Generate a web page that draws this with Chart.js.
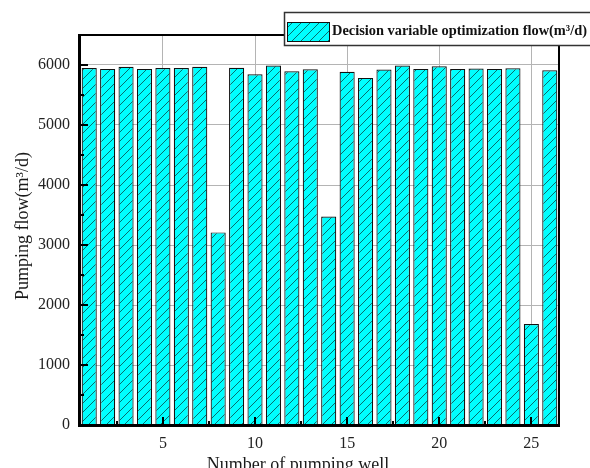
<!DOCTYPE html>
<html>
<head>
<meta charset="utf-8">
<title>Pumping flow</title>
<script src="https://cdn.jsdelivr.net/npm/chart.js@4.4.1/dist/chart.umd.min.js"></script>
<style>
  html, body { margin: 0; padding: 0; background: #fff; }
  #wrap { width: 590px; height: 468px; }
</style>
</head>
<body>
<div id="wrap"><canvas id="myChart" width="590" height="468"></canvas></div>
<script>
// well numbers 1..26 and the optimized flow of each (m3/d)
const wellNumbers = [1, 2, 3, 4, 5, 6, 7, 8, 9, 10, 11, 12, 13, 14, 15, 16, 17, 18, 19, 20, 21, 22, 23, 24, 25, 26];
const pumpingFlow = [5950, 5935, 5970, 5935, 5950, 5950, 5970, 3210, 5955, 5845, 5990, 5895, 5930, 3475,
                     5888, 5785, 5925, 5990, 5935, 5978, 5935, 5940, 5935, 5945, 1683, 5912];
const xTickLabels = ['5', '10', '15', '20', '25'];
const yTickValues = [0, 1000, 2000, 3000, 4000, 5000, 6000];
const yMax = 6500;

const seriesName = 'Decision variable optimization flow(m\u00b3/d)';
const xTitle = 'Number of pumping well';
const yTitle = 'Pumping flow(m\u00b3/d)';

const serif = '"Liberation Serif", "Times New Roman", serif';
const ctx = document.getElementById('myChart').getContext('2d');

// cyan fill with "/" hatching
function hatchPattern() {
    let c = document.createElement('canvas');
    c.width = 9; c.height = 9;
    let g = c.getContext('2d');
    g.fillStyle = '#00ffff';
    g.fillRect(0, 0, 9, 9);
    g.strokeStyle = 'rgba(10,40,40,0.85)';
    g.lineWidth = 0.8;
    g.beginPath();
    g.moveTo(0, 9); g.lineTo(9, 0);
    g.moveTo(-1, 1); g.lineTo(1, -1);
    g.moveTo(8, 10); g.lineTo(10, 8);
    g.stroke();
    return ctx.createPattern(c, 'repeat');
}
const hatch = hatchPattern();

// inside ticks, frame, titles and legend box
const framePlugin = {
    id: 'frame',
    afterDatasetsDraw(chart) {
        const { ctx, chartArea: a, scales: { x, y } } = chart;
        ctx.save();
        ctx.fillStyle = '#000';
        // y ticks (major every 1000, minor every 500)
        for (let v = 0; v <= 6000; v += 500) {
            let py = Math.round(y.getPixelForValue(v));
            let len = v % 1000 === 0 ? 8 : 4;
            ctx.fillRect(a.left, py - 1, len, 2);
        }
        // x ticks (major every 5, minor halfway between)
        for (let i = 0; i < wellNumbers.length; i++) {
            let n = wellNumbers[i];
            if (xTickLabels.includes(String(n))) {
                let px = Math.round(x.getPixelForValue(i));
                ctx.fillRect(px - 1, a.bottom - 8, 2, 8);
            }
            if ((n + 0.5) % 5 === 2.5 && i + 1 < wellNumbers.length) {
                let px = Math.round((x.getPixelForValue(i) + x.getPixelForValue(i + 1)) / 2);
                ctx.fillRect(px - 1, a.bottom - 4, 2, 4);
            }
        }
        // frame
        ctx.fillRect(a.left - 2, a.top - 1, 3, a.bottom - a.top + 3);
        ctx.fillRect(a.left - 2, a.bottom - 1, a.right - a.left + 3, 3);
        ctx.fillRect(a.left - 2, a.top - 1, a.right - a.left + 3, 2);
        ctx.fillRect(a.right - 1, a.top - 1, 2, a.bottom - a.top + 2);
        ctx.restore();
    },
    afterDraw(chart) {
        const { ctx } = chart;
        ctx.save();
        ctx.fillStyle = '#1a1a1a';
        // axis titles
        ctx.font = '18px ' + serif;
        ctx.textAlign = 'center';
        ctx.textBaseline = 'alphabetic';
        ctx.fillText(xTitle, 298, 470);
        ctx.translate(28, 226);
        ctx.rotate(-Math.PI / 2);
        ctx.fillText(yTitle, 0, 0);
        ctx.restore();

        // legend box
        ctx.save();
        ctx.fillStyle = '#fff';
        ctx.fillRect(284, 12, 320, 34);
        ctx.strokeStyle = '#333';
        ctx.lineWidth = 1.5;
        ctx.strokeRect(284.5, 12.5, 320, 33);
        ctx.fillStyle = hatch;
        ctx.fillRect(287, 22, 43, 20);
        ctx.strokeStyle = '#111';
        ctx.lineWidth = 1;
        ctx.strokeRect(287.5, 22.5, 42, 19);
        ctx.fillStyle = '#111';
        // fit the bold label into the space up to the window edge
        let size = 15;
        ctx.font = 'bold ' + size + 'px ' + serif;
        let w = ctx.measureText(seriesName).width;
        size = Math.min(16, size * 255 / w);
        ctx.font = 'bold ' + size.toFixed(1) + 'px ' + serif;
        ctx.textAlign = 'left';
        ctx.textBaseline = 'middle';
        ctx.fillText(seriesName, 332, 31);
        ctx.restore();
    }
};

new Chart(ctx, {
    type: 'bar',
    data: {
        labels: wellNumbers,
        datasets: [{
            label: seriesName,
            data: pumpingFlow,
            backgroundColor: hatch,
            borderColor: '#111',
            borderWidth: 1.2,
            categoryPercentage: 0.82,
            barPercentage: 1
        }]
    },
    options: {
        responsive: false,
        devicePixelRatio: 1,
        animation: false,
        layout: { padding: { left: 0, top: 35, right: 31, bottom: 0 } },
        plugins: {
            legend: { display: false },
            tooltip: { enabled: false }
        },
        scales: {
            x: {
                type: 'category',
                offset: true,
                afterFit(scale) { scale.height = 43; },
                border: { display: false },
                grid: {
                    offset: false,
                    drawTicks: false,
                    color: (c) => (c.tick && xTickLabels.includes(String(c.tick.label))) ? '#b4b4b4' : 'rgba(0,0,0,0)',
                    lineWidth: 1
                },
                ticks: {
                    autoSkip: false,
                    maxRotation: 0,
                    padding: 9,
                    color: '#222',
                    font: { family: serif, size: 16 },
                    callback: function (val, idx) {
                        let lab = String(wellNumbers[idx]);
                        return xTickLabels.includes(lab) ? lab : '';
                    }
                }
            },
            y: {
                min: 0,
                max: yMax,
                afterFit(scale) { scale.width = 80; },
                afterBuildTicks(scale) { scale.ticks = yTickValues.map(v => ({ value: v })); },
                border: { display: false },
                grid: {
                    drawTicks: false,
                    color: '#b4b4b4',
                    lineWidth: 1
                },
                ticks: {
                    autoSkip: false,
                    padding: 10,
                    color: '#222',
                    font: { family: serif, size: 16 },
                    callback: (v) => String(v)
                }
            }
        }
    },
    plugins: [framePlugin]
});
</script>
</body>
</html>
